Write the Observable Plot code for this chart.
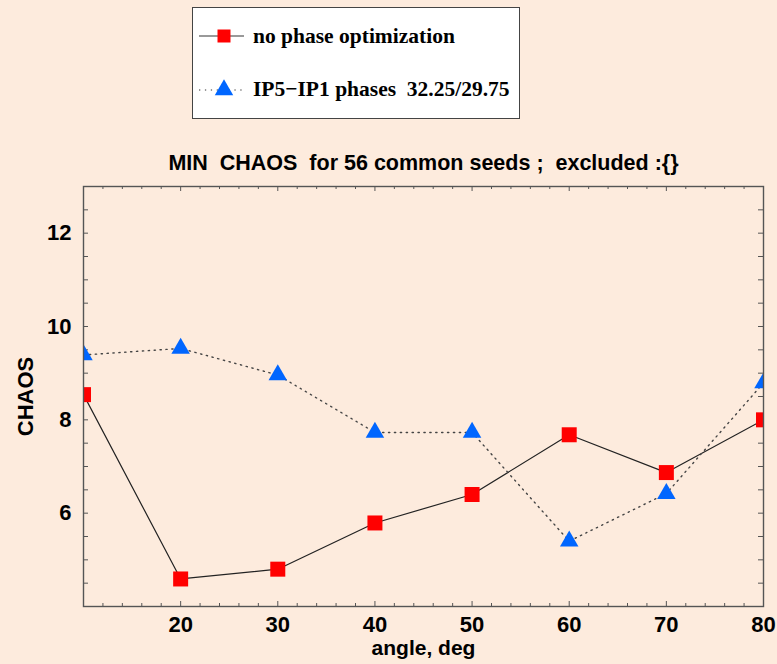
<!DOCTYPE html>
<html><head><meta charset="utf-8">
<script src="https://cdn.jsdelivr.net/npm/d3@7"></script>
<script src="https://cdn.jsdelivr.net/npm/@observablehq/plot@0.6"></script>
<style>
html,body{margin:0;padding:0;background:#fdebdd;}
#wrap{position:relative;width:777px;height:664px;overflow:hidden;}
#legend{position:absolute;left:192px;top:7px;width:326px;height:110px;background:#fff;border:1px solid #444;}
#legend svg{display:block}
svg text{white-space:pre}
</style></head><body><div id="wrap"><div id="chart"></div><div id="legend"></div></div>
<script>
const angles = [10, 20, 30, 40, 50, 60, 70, 80];
const noPhase = [8.54, 4.59, 4.80, 5.79, 6.40, 7.68, 6.87, 8.00];
const ip5ip1 = [9.39, 9.53, 8.96, 7.73, 7.73, 5.40, 6.42, 8.79];
const seriesNames = ["no phase optimization", "IP5\u2212IP1 phases  32.25/29.75"];
const xTicks = [20, 30, 40, 50, 60, 70, 80];
const yTicks = [6, 8, 10, 12];
const xMajor = [10, 20, 30, 40, 50, 60, 70, 80];
const xMinor = d3.range(12, 80, 2).filter(v => v % 10 !== 0);
const yAll = d3.range(4.5, 13, 0.5);
const titleText = "MIN  CHAOS  for 56 common seeds ;  excluded :{}";
const xLabel = "angle, deg";
const yLabel = "CHAOS";

const red = "#ff0000", blue = "#0066ff", frameCol = "#555";
const s1 = angles.map((a, i) => ({angle: a, value: noPhase[i]}));
const s2 = angles.map((a, i) => ({angle: a, value: ip5ip1[i]}));
const font = "'Liberation Sans', Arial, Helvetica, sans-serif";

const chart = Plot.plot({
  width: 777, height: 664,
  marginLeft: 83, marginRight: 14, marginTop: 186, marginBottom: 58,
  style: {background: "#fdebdd", color: "#000", fontFamily: font, fontSize: "22px", fontWeight: "bold"},
  x: {domain: [10, 80]},
  y: {domain: [4, 13]},
  marks: [
    Plot.tickX(xMajor, {x: d => d, insetTop: 415, stroke: frameCol}),
    Plot.tickX(xMajor, {x: d => d, insetBottom: 415, stroke: frameCol}),
    Plot.tickX(xMinor, {x: d => d, insetTop: 417, stroke: frameCol}),
    Plot.tickX(xMinor, {x: d => d, insetBottom: 417, stroke: frameCol}),
    Plot.tickY(yAll, {y: d => d, insetRight: 675, stroke: frameCol}),
    Plot.tickY(yAll, {y: d => d, insetLeft: 675, stroke: frameCol}),
    Plot.line(s1, {x: "angle", y: "value", stroke: "#222", strokeWidth: 1.2, clip: true}),
    Plot.line(s2, {x: "angle", y: "value", stroke: "#444", strokeWidth: 1.4, strokeDasharray: "1.3,4.6", clip: true}),
    Plot.dot(s1, {x: "angle", y: "value", symbol: "square", r: 8.46, fill: red, clip: true}),
    Plot.dot(s2, {x: "angle", y: "value", symbol: "triangle", r: 6.86, fill: blue, clip: true}),
    Plot.frame({stroke: frameCol, strokeWidth: 1.4}),
    Plot.axisX(xTicks, {tickSize: 0, tickPadding: 10, fontSize: 22, fontWeight: "bold", label: null}),
    Plot.axisY(yTicks, {tickSize: 0, tickPadding: 12, fontSize: 22, fontWeight: "bold", label: null}),
    Plot.text([titleText], {text: d => d, frameAnchor: "top", lineAnchor: "middle", textAnchor: "middle", dy: -23, fontSize: 21.5, fontWeight: "bold"}),
    Plot.text([xLabel], {text: d => d, frameAnchor: "bottom", lineAnchor: "middle", textAnchor: "middle", dy: 42, fontSize: 21, fontWeight: "bold"}),
    Plot.text([yLabel], {text: d => d, frameAnchor: "left", lineAnchor: "middle", textAnchor: "middle", dx: -58, rotate: -90, fontSize: 22, fontWeight: "bold"})
  ]
});
document.getElementById("chart").appendChild(chart);

// legend
const lg = d3.select("#legend").append("svg").attr("width", 326).attr("height", 110);
const entries = [
  {name: seriesNames[0], y: 28, ty: 35, stroke: "#777", dash: null, sym: d3.symbolSquare, size: 13 * 13, fill: red},
  {name: seriesNames[1], y: 82, ty: 88, stroke: "#777", dash: "1.3,4.6", sym: d3.symbolTriangle, size: 147.7, fill: blue}
];
entries.forEach(e => {
  lg.append("line").attr("x1", 6).attr("x2", 51).attr("y1", e.y).attr("y2", e.y)
    .attr("stroke", e.stroke).attr("stroke-width", 1.4).attr("stroke-dasharray", e.dash);
  lg.append("path").attr("d", d3.symbol(e.sym, e.size)()).attr("transform", `translate(31,${e.y})`).attr("fill", e.fill);
  lg.append("text").attr("x", 60).attr("y", e.ty).text(e.name)
    .style("font-family", "'Liberation Serif', 'Times New Roman', serif").style("font-weight", "bold").style("font-size", "21.5px");
});
</script>
</body></html>
